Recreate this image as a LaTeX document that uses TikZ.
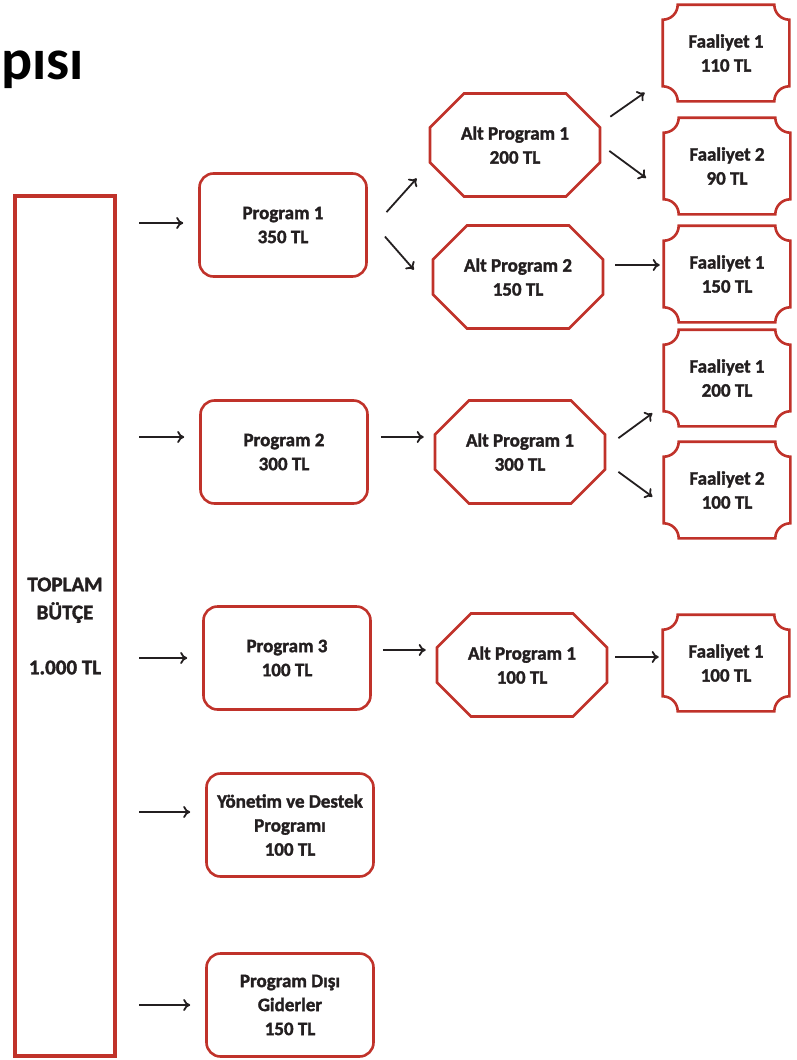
\documentclass[tikz,border=0pt]{standalone}
\usepackage{fontspec}
\setmainfont{Carlito}[BoldFeatures={FakeBold=1.6}]
\newfontfamily\titlefont{Carlito}
\usetikzlibrary{shapes.misc,arrows.meta,calc}
\definecolor{budgetred}{RGB}{192,50,42}
\definecolor{ink}{RGB}{35,31,32}
\begin{document}
\begin{tikzpicture}[x=1pt,y=-1pt]
	\tikzset{prog/.style={draw=budgetred, line width=2.6pt, rounded corners=14pt, minimum width=167pt, minimum height=103pt, align=center, text=ink, font=\bfseries\fontsize{19}{24}\selectfont},
		altprog/.style={prog, sharp corners, chamfered rectangle, chamfered rectangle xsep=17pt, chamfered rectangle ysep=17pt, minimum width=170pt},
		faal/.style={prog, draw=none, minimum width=124pt, minimum height=94pt},
		ticket/.style={draw=budgetred, line width=2.6pt},
		ok/.style={-{To[length=7pt,width=12pt]}, line width=1.8pt, draw=ink}}
	\useasboundingbox (0,0) rectangle (796,1060);

	\node[anchor=base west, inner sep=0pt, text=black, font=\titlefont\bfseries\fontsize{58}{58}\selectfont] at (1,79) (title) {pısı};

	% Total budget
	\node[draw=budgetred, line width=4pt, minimum width=100pt, minimum height=860pt, align=center, text=ink, font=\bfseries\fontsize{21}{28}\selectfont] at (65,626) (toplam) {TOPLAM\\BÜTÇE\\[27pt]1.000 TL};

	% Programs
	\node[prog] at (283,225) (p1) {Program 1\\350 TL};
	\node[prog] at (284,452) (p2) {Program 2\\300 TL};
	\node[prog] at (287,658) (p3) {Program 3\\100 TL};
	\node[prog] at (290,825) (pyd) {Yönetim ve Destek\\Programı\\100 TL};
	\node[prog] at (290,1005) (pdg) {Program Dışı\\Giderler\\150 TL};

	% Sub programs
	\node[altprog] at (515,145) (ap1) {Alt Program 1\\200 TL};
	\node[altprog] at (518,277) (ap2) {Alt Program 2\\150 TL};
	\node[altprog] at (520,452) (ap3) {Alt Program 1\\300 TL};
	\node[altprog] at (522,665) (ap4) {Alt Program 1\\100 TL};

	% Activities
	\node[faal] at (726,53) (f1) {Faaliyet 1\\110 TL};
	\node[faal] at (727,166) (f2) {Faaliyet 2\\90 TL};
	\node[faal] at (727,274) (f3) {Faaliyet 1\\150 TL};
	\node[faal] at (727,378) (f4) {Faaliyet 1\\200 TL};
	\node[faal] at (727,490) (f5) {Faaliyet 2\\100 TL};
	\node[faal] at (726,663) (f6) {Faaliyet 1\\100 TL};
	\foreach \f in {f1,f2,f3,f4,f5,f6}
		\draw[ticket] ([xshift=15pt]\f.north west) -- ([xshift=-15pt]\f.north east) arc[start angle=180, end angle=270, radius=15pt]
			-- ([yshift=15pt]\f.south east) arc[start angle=90, end angle=180, radius=15pt]
			-- ([xshift=15pt]\f.south west) arc[start angle=0, end angle=90, radius=15pt]
			-- ([yshift=-15pt]\f.north west) arc[start angle=270, end angle=360, radius=15pt] -- cycle;

	% Arrows
	\foreach \p/\s in {p1/2, p2/15, p3/0, pyd/13, pdg/0}
		\draw[ok, shorten <=22pt, shorten >=15pt] ($(toplam.east |- \p.west)+(0,-\s)$) -- ($(\p.west)+(0,-\s)$);
	\draw[ok, shorten <=28pt, shorten >=18pt] ([yshift=-8pt]p1.east) -- ([yshift=-20pt]ap1.west);
	\draw[ok, shorten <=26pt, shorten >=27pt] ([yshift=8pt]p1.east) -- ([yshift=-13pt]ap2.west);
	\draw[ok, shorten <=12pt, shorten >=10pt] ([yshift=15pt]p2.east) -- ([yshift=15pt]ap3.west);
	\draw[ok, shorten <=11pt, shorten >=10pt] ([yshift=8pt]p3.east) -- ([yshift=15pt]ap4.west);
	\draw[ok, shorten <=11pt, shorten >=22pt] ([yshift=22pt]ap1.east) -- ([yshift=-27pt]f1.west);
	\draw[ok, shorten <=10pt, shorten >=22pt] (ap1.east) -- ([yshift=-25pt]f2.west);
	\draw[ok, shorten <=11pt, shorten >=4pt] ([yshift=12pt]ap2.east) -- ([yshift=9pt]f3.west);
	\draw[ok, shorten <=15pt, shorten >=14pt] ([yshift=5pt]ap3.east) -- ([yshift=-27pt]f4.west);
	\draw[ok, shorten <=15pt, shorten >=14pt] ([yshift=-11pt]ap3.east) -- ([yshift=-15pt]f5.west);
	\draw[ok, shorten <=7pt, shorten >=4pt] ([yshift=8pt]ap4.east) -- ([yshift=6pt]f6.west);
\end{tikzpicture}
\end{document}
